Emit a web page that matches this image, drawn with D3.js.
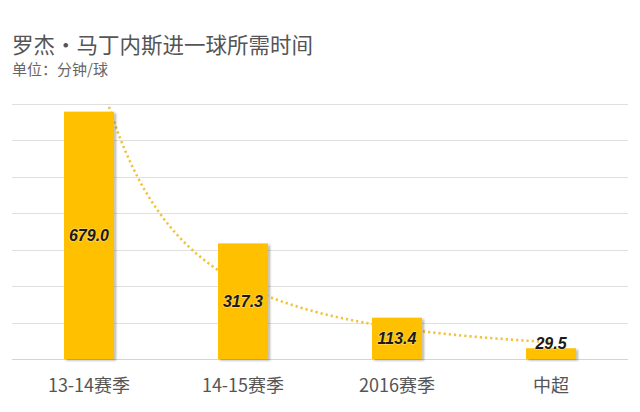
<!DOCTYPE html>
<html>
<head>
<meta charset="utf-8">
<script src="https://cdn.jsdelivr.net/npm/d3@7"></script>
<style>
  html, body { margin: 0; padding: 0; background: #fff; }
  svg { display: block; }
</style>
</head>
<body>
<div id="chart"></div>
<script>
// data
const categories = ['13-14赛季', '14-15赛季', '2016赛季', '中超'];
const minutesPerGoal = [679.0, 317.3, 113.4, 29.5];
const gridTicks = [0, 100, 200, 300, 400, 500, 600, 700];

const width = 640;
const height = 412;

const svg = d3.select('#chart')
    .append('svg')
    .attr('width', width)
    .attr('height', height);

const defs = svg.append('defs');
defs.append('filter')
    .attr('id', 'barShadow')
    .attr('x', '-20%').attr('y', '-20%').attr('width', '140%').attr('height', '140%')
    .append('feDropShadow')
    .attr('dx', 2).attr('dy', 1.5)
    .attr('stdDeviation', 1.2)
    .attr('flood-color', '#000')
    .attr('flood-opacity', 0.3);
defs.append('clipPath')
    .attr('id', 'plotClip')
    .append('rect')
    .attr('x', 12).attr('y', 104).attr('width', 616).attr('height', 255);

const x = d3.scaleBand()
    .domain(categories)
    .range([12, 628])
    .paddingInner(0.675)
    .paddingOuter(0.3375);

const y = d3.scaleLinear()
    .domain([0, 700])
    .range([359, 104]);

// title
svg.append('text')
    .attr('x', 12).attr('y', 53)
    .attr('font-family', '"Noto Sans CJK SC", sans-serif')
    .attr('font-size', 21.5)
    .attr('fill', '#555')
    .text('罗杰・马丁内斯进一球所需时间');

svg.append('text')
    .attr('x', 12).attr('y', 75)
    .attr('font-family', '"Noto Sans CJK SC", sans-serif')
    .attr('font-size', 15)
    .attr('fill', '#666')
    .text('单位：分钟/球');

// gridlines
svg.append('g')
    .selectAll('line')
    .data(gridTicks)
    .join('line')
    .attr('x1', 12).attr('x2', 628)
    .attr('y1', (d) => Math.round(y(d)) + 0.5)
    .attr('y2', (d) => Math.round(y(d)) + 0.5)
    .attr('stroke', (d) => (d === 0 ? '#d4d4d4' : '#e0e0e0'))
    .attr('stroke-width', 1);

// power trendline (least squares on ln x, ln y), like the spreadsheet one
const lx = minutesPerGoal.map((d, i) => Math.log(i + 1));
const ly = minutesPerGoal.map((d) => Math.log(d));
const mx = d3.mean(lx);
const my = d3.mean(ly);
const slope = d3.sum(lx, (v, i) => (v - mx) * (ly[i] - my)) / d3.sum(lx, (v) => (v - mx) * (v - mx));
const intercept = my - slope * mx;

const xIdx = d3.scaleLinear()
    .domain([1, categories.length])
    .range([x(categories[0]) + x.bandwidth() / 2, x(categories[categories.length - 1]) + x.bandwidth() / 2]);

const trend = d3.range(1, categories.length + 0.001, 0.02)
    .map((t) => [xIdx(t), y(Math.exp(intercept) * Math.pow(t, slope))]);

svg.append('path')
    .datum(trend)
    .attr('clip-path', 'url(#plotClip)')
    .attr('d', d3.line())
    .attr('fill', 'none')
    .attr('stroke', '#f2c23a')
    .attr('stroke-width', 2.6)
    .attr('stroke-dasharray', '2.2 3');

// bars
svg.append('g')
    .selectAll('rect')
    .data(minutesPerGoal)
    .join('rect')
    .attr('x', (d, i) => x(categories[i]))
    .attr('y', (d) => y(d))
    .attr('width', x.bandwidth())
    .attr('height', (d) => y(0) - y(d))
    .attr('fill', '#ffc000')
    .attr('filter', 'url(#barShadow)');

// value labels: centred in the bar, above it when the bar is too short
svg.append('g')
    .selectAll('text')
    .data(minutesPerGoal)
    .join('text')
    .attr('x', (d, i) => x(categories[i]) + x.bandwidth() / 2)
    .attr('y', (d) => (y(0) - y(d) > 20 ? (y(d) + y(0)) / 2 : y(d) - 5))
    .attr('dy', '0.36em')
    .attr('text-anchor', 'middle')
    .attr('font-family', '"Liberation Sans", Arial, sans-serif')
    .attr('font-size', 16)
    .attr('font-weight', 'bold')
    .attr('font-style', 'italic')
    .attr('fill', '#1a1a1a')
    .style('paint-order', 'stroke')
    .attr('stroke', 'rgba(255,255,255,0.35)')
    .attr('stroke-width', 1.5)
    .text((d) => d.toFixed(1));

// category labels
svg.append('g')
    .selectAll('text')
    .data(categories)
    .join('text')
    .attr('x', (d) => x(d) + x.bandwidth() / 2)
    .attr('y', 392)
    .attr('text-anchor', 'middle')
    .attr('font-family', '"Noto Sans CJK SC", sans-serif')
    .attr('font-size', 18)
    .attr('fill', '#555')
    .text((d) => d);
</script>
</body>
</html>
